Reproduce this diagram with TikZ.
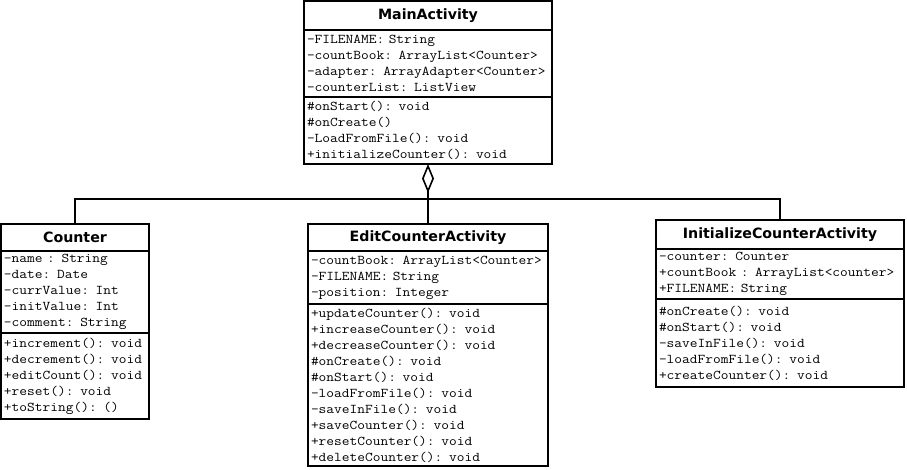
\documentclass[tikz,border=0pt]{standalone}
\usepackage{fontspec}
\setmonofont{Latin Modern Mono}[FakeStretch=1.12]
\newfontfamily\headfont{DejaVu Sans}
\newcommand\memberfont{\ttfamily\fontsize{13.4}{16}\selectfont}
\usetikzlibrary{arrows.meta,%
                positioning}

\begin{document}
\begin{tikzpicture}[x=1pt,y=-1pt]
    \useasboundingbox (0,0) rectangle (907,469);
    \tikzstyle{TitleStyle}=[draw,line width=1.3pt,outer sep=0pt,inner sep=0pt,anchor=north west,
        font=\headfont\bfseries\fontsize{14.2}{16}\selectfont]
    \tikzstyle{MemberStyle}=[draw,line width=1.3pt,outer sep=0pt,inner xsep=3pt,inner ysep=0pt,
        align=left,font=\memberfont]
    \tikzstyle{OuterStyle}=[draw,line width=2pt]
    \tikzstyle{EdgeStyle}=[line width=1.6pt]
    \node[TitleStyle,minimum width=248pt,minimum height=29pt] (main) at (304,1) {MainActivity};
    \node[MemberStyle,text width=242pt,minimum height=67pt,below=0pt of main] (mainattr)
        {-FILENAME: String\\-countBook: ArrayList<Counter>\\-adapter: ArrayAdapter<Counter>\\-counterList: ListView};
    \node[MemberStyle,text width=242pt,minimum height=67pt,below=0pt of mainattr] (mainops)
        {\#onStart(): void\\\#onCreate()\\-LoadFromFile(): void\\+initializeCounter(): void};
    \node[TitleStyle,minimum width=148pt,minimum height=27pt] (count) at (1,224) {Counter};
    \node[MemberStyle,text width=142pt,minimum height=82pt,below=0pt of count] (countattr)
        {-name : String\\-date: Date\\-currValue: Int\\-initValue: Int\\-comment: String};
    \node[MemberStyle,text width=142pt,minimum height=86pt,below=0pt of countattr] (countops)
        {+increment(): void\\+decrement(): void\\+editCount(): void\\+reset(): void\\+toString(): ()};
    \node[TitleStyle,minimum width=240pt,minimum height=27pt] (edit) at (308,224) {EditCounterActivity};
    \node[MemberStyle,text width=234pt,minimum height=53pt,below=0pt of edit] (editattr)
        {-countBook: ArrayList<Counter>\\-FILENAME: String\\-position: Integer};
    \node[MemberStyle,text width=234pt,minimum height=162pt,below=0pt of editattr] (editops)
        {+updateCounter(): void\\+increaseCounter(): void\\+decreaseCounter(): void\\\#onCreate(): void\\\#onStart(): void\\-loadFromFile(): void\\-saveInFile(): void\\+saveCounter(): void\\+resetCounter(): void\\+deleteCounter(): void};
    \node[TitleStyle,minimum width=248pt,minimum height=29pt] (init) at (656,220) {InitializeCounterActivity};
    \node[MemberStyle,text width=242pt,minimum height=50pt,below=0pt of init] (initattr)
        {-counter: Counter\\+countBook : ArrayList<counter>\\+FILENAME: String};
    \node[MemberStyle,text width=242pt,minimum height=88pt,below=0pt of initattr] (initops)
        {\#onCreate(): void\\\#onStart(): void\\-saveInFile(): void\\-loadFromFile(): void\\+createCounter(): void};
    \draw[OuterStyle] (main.north west) rectangle (mainops.south east);
    \draw[OuterStyle] (count.north west) rectangle (countops.south east);
    \draw[OuterStyle] (edit.north west) rectangle (editops.south east);
    \draw[OuterStyle] (init.north west) rectangle (initops.south east);
    \coordinate (hub) at (428,199);
    \draw[EdgeStyle] (count.north) |- (hub) -| (init.north);
    \draw[EdgeStyle,-{Diamond[open,length=29pt,width=12pt]}] (edit.north) -- (mainops.south);
\end{tikzpicture}
\end{document}
